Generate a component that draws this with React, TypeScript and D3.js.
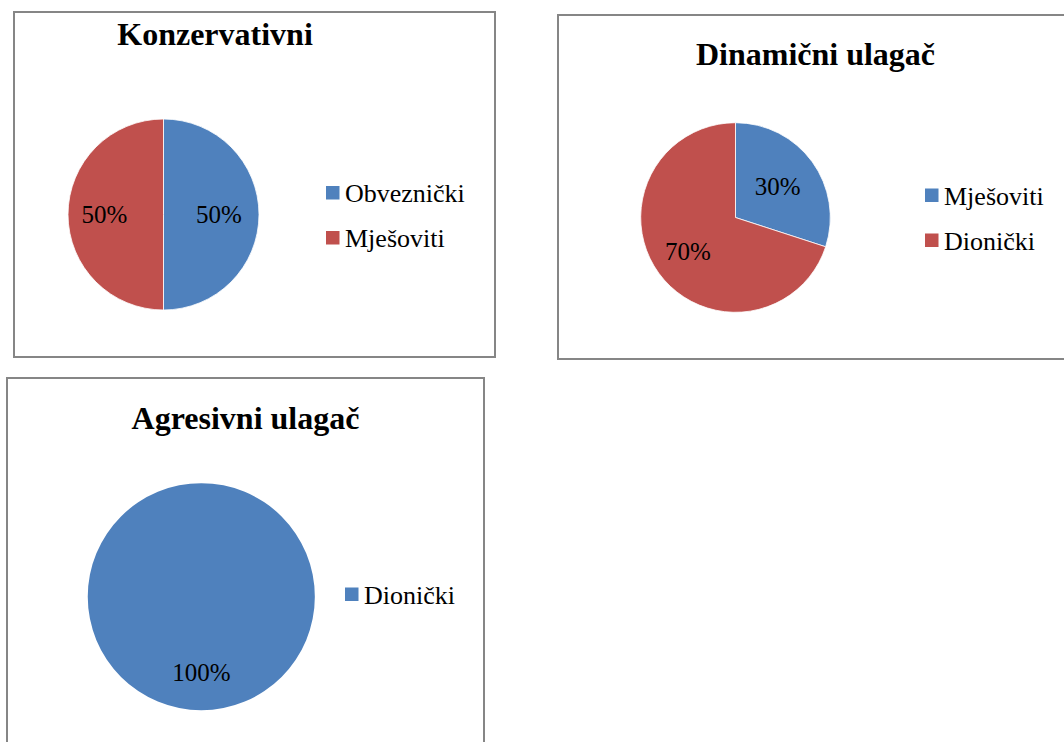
import React from "react";
import * as d3 from "d3";

const chartTitles = ["Konzervativni", "Dinamični ulagač", "Agresivni ulagač"];
const konzCategories = ["Obveznički", "Mješoviti"];
const konzValues = [50, 50];
const dinCategories = ["Mješoviti", "Dionički"];
const dinValues = [30, 70];
const agrCategories = ["Dionički"];
const agrValues = [100];

const COLORS = ["#4F81BD", "#C0504D"];

type PanelCfg = {
  title: string;
  cats: string[];
  vals: number[];
  box: { x: number; y: number; w: number; h: number };
  titleX: number;
  titleY: number;
  cx: number;
  cy: number;
  r: number;
  labelR: number[];
  legendX: number;
  legendY: number;
};

const panels: PanelCfg[] = [
  {
    title: chartTitles[0],
    cats: konzCategories,
    vals: konzValues,
    box: { x: 14, y: 12, w: 481, h: 345 },
    titleX: 215,
    titleY: 45,
    cx: 163.5,
    cy: 214.5,
    r: 95.5,
    labelR: [0.58, 0.62],
    legendX: 326,
    legendY: 186,
  },
  {
    title: chartTitles[1],
    cats: dinCategories,
    vals: dinValues,
    box: { x: 558, y: 15, w: 520, h: 344 },
    titleX: 815.5,
    titleY: 65,
    cx: 735.5,
    cy: 217.5,
    r: 94.8,
    labelR: [0.55, 0.62],
    legendX: 925,
    legendY: 188.5,
  },
  {
    title: chartTitles[2],
    cats: agrCategories,
    vals: agrValues,
    box: { x: 7, y: 378, w: 477, h: 380 },
    titleX: 245.5,
    titleY: 428.5,
    cx: 201.3,
    cy: 596.7,
    r: 113.5,
    labelR: [0.67],
    legendX: 345,
    legendY: 587.5,
  },
];

const FONT = "Liberation Serif";

function Panel({ p }: { p: PanelCfg }) {
  const pie = d3
    .pie<number>()
    .sort(null)
    .value((d) => d)
    .startAngle(0)
    .endAngle(2 * Math.PI);
  const arcs = pie(p.vals);
  const total = d3.sum(p.vals);
  const arcGen = d3.arc<d3.PieArcDatum<number>>().innerRadius(0).outerRadius(p.r);
  const color = d3.scaleOrdinal<string, string>().domain(p.cats).range(COLORS);
  const fmt = d3.format(".0%");
  return (
    <g>
      <rect
        x={p.box.x}
        y={p.box.y}
        width={p.box.w}
        height={p.box.h}
        fill="#fff"
        stroke="#868686"
        strokeWidth={2}
      />
      <text
        x={p.titleX}
        y={p.titleY}
        textAnchor="middle"
        fontFamily={FONT}
        fontWeight="bold"
        fontSize={32}
        fill="#000"
      >
        {p.title}
      </text>
      <g transform={`translate(${p.cx},${p.cy})`}>
        {arcs.map((a, i) => (
          <path
            key={i}
            d={arcGen(a) || ""}
            fill={color(p.cats[i])}
            stroke={arcs.length > 1 ? "#fff" : "none"}
            strokeWidth={0.8}
          />
        ))}
        {arcs.map((a, i) => {
          const mid = (a.startAngle + a.endAngle) / 2;
          const d = p.r * p.labelR[i];
          const x = Math.sin(mid) * d;
          const y = -Math.cos(mid) * d;
          return (
            <text
              key={"l" + i}
              x={x}
              y={y}
              dy="0.33em"
              textAnchor="middle"
              fontFamily={FONT}
              fontSize={25}
              fill="#000"
            >
              {fmt(a.value / total)}
            </text>
          );
        })}
      </g>
      <g transform={`translate(${p.legendX},${p.legendY})`}>
        {p.cats.map((c, i) => (
          <g key={c} transform={`translate(0,${i * 45})`}>
            <rect x={0} y={0} width={13.5} height={13.5} fill={color(c)} />
            <text x={19} y={16} fontFamily={FONT} fontSize={26} fill="#000">
              {c}
            </text>
          </g>
        ))}
      </g>
    </g>
  );
}

export default function App() {
  return (
    <svg
      width={1064}
      height={742}
      style={{ position: "absolute", left: 0, top: 0, background: "#fff" }}
    >
      <rect x={0} y={0} width={1064} height={742} fill="#fff" />
      {panels.map((p, i) => (
        <Panel key={i} p={p} />
      ))}
    </svg>
  );
}
